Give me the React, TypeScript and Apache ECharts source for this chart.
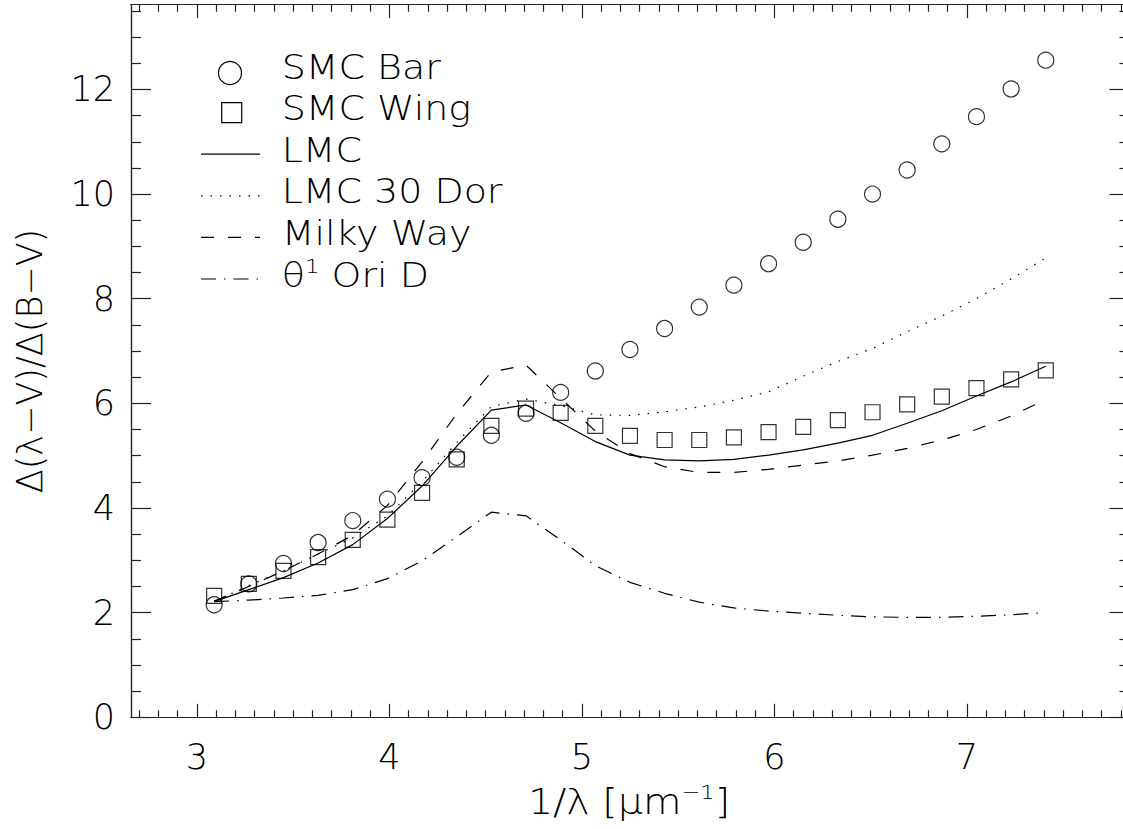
import { useEffect, useRef } from "react";
import * as echarts from "echarts";

// 1/lambda [micron^-1]
const X = [3.09, 3.27, 3.45, 3.63, 3.81, 3.99, 4.17, 4.35, 4.53, 4.71, 4.89, 5.07, 5.25, 5.43, 5.61, 5.79, 5.97, 6.15, 6.33, 6.51, 6.69, 6.87, 7.05, 7.23, 7.41];

const SMC_BAR = [2.15, 2.55, 2.94, 3.34, 3.76, 4.17, 4.58, 4.97, 5.39, 5.81, 6.21, 6.62, 7.03, 7.43, 7.84, 8.26, 8.67, 9.08, 9.52, 10.0, 10.46, 10.96, 11.48, 12.01, 12.56];
const SMC_WING = [2.32, 2.55, 2.8, 3.06, 3.39, 3.78, 4.29, 4.93, 5.57, 5.9, 5.82, 5.57, 5.38, 5.3, 5.3, 5.35, 5.45, 5.55, 5.68, 5.83, 5.98, 6.13, 6.29, 6.46, 6.63];
const LMC = [2.21, 2.44, 2.67, 2.95, 3.3, 3.8, 4.42, 5.18, 5.87, 5.97, 5.63, 5.27, 5.01, 4.92, 4.9, 4.93, 5.01, 5.11, 5.24, 5.39, 5.62, 5.86, 6.14, 6.41, 6.71];
const LMC_30DOR = [2.21, 2.52, 2.8, 3.12, 3.43, 3.85, 4.5, 5.25, 5.94, 6.08, 5.96, 5.78, 5.77, 5.84, 5.93, 6.06, 6.22, 6.52, 6.8, 7.05, 7.37, 7.67, 8.0, 8.38, 8.78];
const MILKY_WAY = [2.22, 2.5, 2.8, 3.12, 3.48, 4.05, 4.88, 5.8, 6.6, 6.73, 6.1, 5.47, 5.04, 4.79, 4.68, 4.68, 4.74, 4.82, 4.9, 5.01, 5.14, 5.3, 5.5, 5.76, 6.07];
const THETA1_ORI_D = [2.21, 2.24, 2.28, 2.33, 2.44, 2.65, 2.99, 3.45, 3.92, 3.85, 3.39, 2.9, 2.58, 2.37, 2.2, 2.09, 2.03, 1.99, 1.95, 1.92, 1.91, 1.91, 1.93, 1.96, 2.0];

const X_MAJOR = [3, 4, 5, 6, 7];
const Y_MAJOR = [0, 2, 4, 6, 8, 10, 12];

const XMIN = 2.658;
const XMAX = 7.845;
const YMIN = 0;
const YMAX = 13.62;

const X_TITLE = "1/λ [μm{sup|−1}]";
const Y_TITLE = "Δ(λ−V)/Δ(B−V)";

const FONT = '"DejaVu Sans", "Liberation Sans", sans-serif';
const FW = 200;
const INK = "#000";
const AXIS_INK = "#222";

const X_MINOR: number[] = [];
for (let i = 27; i <= 78; i++) if (i % 10 !== 0) X_MINOR.push(i / 10);
const Y_MINOR: number[] = [];
for (let i = 1; i <= 27; i++) if (i % 4 !== 0) Y_MINOR.push(i / 2);

const pairs = (ys: number[]) => X.map((x, i) => [x, ys[i]]);

const DOT = [1.5, 8];
const DASH = [13, 14];
const DASHDOT = [15, 8, 1.5, 8];

function xAxisDef(position: string, ticks: number[], len: number, withLabels: boolean, extra: any = {}) {
  return {
    type: "value",
    position,
    min: XMIN,
    max: XMAX,
    axisLine: { show: true, onZero: false, lineStyle: { color: AXIS_INK, width: 1.2 } },
    axisTick: { show: true, inside: true, length: len, customValues: ticks, lineStyle: { color: AXIS_INK, width: 1.2 } },
    axisLabel: withLabels
      ? { show: true, customValues: ticks, margin: 22, color: INK, fontSize: 35, fontFamily: FONT, fontWeight: FW }
      : { show: false },
    splitLine: { show: false },
    minorTick: { show: false },
    ...extra,
  };
}

function yAxisDef(position: string, ticks: number[], len: number, withLabels: boolean, extra: any = {}) {
  return {
    type: "value",
    position,
    min: YMIN,
    max: YMAX,
    axisLine: { show: true, onZero: false, lineStyle: { color: AXIS_INK, width: 1.2 } },
    axisTick: { show: true, inside: true, length: len, customValues: ticks, lineStyle: { color: AXIS_INK, width: 1.2 } },
    axisLabel: withLabels
      ? { show: true, customValues: ticks, margin: 16, color: INK, fontSize: 35, fontFamily: FONT, fontWeight: FW }
      : { show: false },
    splitLine: { show: false },
    minorTick: { show: false },
    ...extra,
  };
}

const LEGEND_NAMES = ["SMC Bar", "SMC Wing", "LMC", "LMC 30 Dor", "Milky Way", "θ{sup|1} Ori D"];

export default function App() {
  const ref = useRef<HTMLDivElement>(null);

  useEffect(() => {
    if (!ref.current) return;
    const chart = echarts.init(ref.current, null, { renderer: "svg" });

    const lineSeries = (name: string, ys: number[], type: any) => ({
      name,
      type: "line",
      data: pairs(ys),
      xAxisIndex: 0,
      yAxisIndex: 0,
      symbol: "none",
      showSymbol: false,
      smooth: false,
      lineStyle: { color: INK, width: 1.2, type },
      z: 3,
    });

    const supRich = {
      sup: { fontSize: 20, fontFamily: FONT, fontWeight: FW, lineHeight: 20, verticalAlign: "top" },
    };

    const rowY = (i: number) => 67 + 41.6 * i;
    const legendText = (text: string, i: number) => ({
      type: "text",
      x: 281.7,
      y: rowY(i),
      scaleX: 1.15,
      style: {
        text,
        x: 0,
        y: 0,
        fill: INK,
        fontSize: 33,
        fontFamily: FONT,
        fontWeight: FW,
        lineHeight: 38,
        verticalAlign: "middle",
        align: "left",
        rich: supRich,
      },
      z: 100,
    });
    const stroke = { stroke: INK, lineWidth: 1.2, fill: "none" };

    const graphic: any[] = [
      { type: "circle", shape: { cx: 230, cy: rowY(0) + 6, r: 11.5 }, style: { ...stroke }, z: 100 },
      { type: "rect", shape: { x: 221.7, y: rowY(1) + 4 - 10, width: 20, height: 20 }, style: { ...stroke }, z: 100 },
      { type: "line", shape: { x1: 201, y1: rowY(2) + 4, x2: 260, y2: rowY(2) + 4 }, style: { stroke: INK, lineWidth: 1.2 }, z: 100 },
      { type: "line", shape: { x1: 201, y1: rowY(3) + 4, x2: 260, y2: rowY(3) + 4 }, style: { stroke: INK, lineWidth: 1.2, lineDash: DOT }, z: 100 },
      { type: "line", shape: { x1: 201, y1: rowY(4) + 4, x2: 260, y2: rowY(4) + 4 }, style: { stroke: INK, lineWidth: 1.2, lineDash: DASH }, z: 100 },
      { type: "line", shape: { x1: 201, y1: rowY(5) + 4, x2: 260, y2: rowY(5) + 4 }, style: { stroke: INK, lineWidth: 1.2, lineDash: DASHDOT }, z: 100 },
      ...LEGEND_NAMES.map((n, i) => legendText(n, i)),
      {
        type: "text",
        x: 629,
        y: 802,
        scaleX: 1.13,
        style: {
          text: X_TITLE,
          x: 0,
          y: 0,
          fill: INK,
          fontSize: 35,
          fontFamily: FONT,
          fontWeight: FW,
          lineHeight: 40,
          verticalAlign: "middle",
          align: "center",
          rich: supRich,
        },
        z: 100,
      },
    ];

    chart.setOption({
      animation: false,
      backgroundColor: "#fff",
      grid: { left: 131, top: 4.7, right: -6.5, bottom: 111.7, containLabel: false, outerBoundsMode: "none" },
      xAxis: [
        xAxisDef("bottom", X_MAJOR, 13.5, true),
        xAxisDef("bottom", X_MINOR, 7, false),
        xAxisDef("top", X_MAJOR, 13.5, false),
        xAxisDef("top", X_MINOR, 7, false),
      ],
      yAxis: [
        yAxisDef("left", Y_MAJOR, 20, true, {
          name: Y_TITLE,
          nameLocation: "middle",
          nameGap: 84,
          nameTextStyle: { color: INK, fontSize: 35, fontFamily: FONT, fontWeight: FW },
        }),
        yAxisDef("left", Y_MINOR, 10, false),
        yAxisDef("right", Y_MAJOR, 20, false),
        yAxisDef("right", Y_MINOR, 10, false),
      ],
      series: [
        lineSeries("LMC", LMC, "solid"),
        lineSeries("LMC 30 Dor", LMC_30DOR, DOT),
        lineSeries("Milky Way", MILKY_WAY, DASH),
        lineSeries("θ1 Ori D", THETA1_ORI_D, DASHDOT),
        {
          name: "SMC Bar",
          type: "scatter",
          data: pairs(SMC_BAR),
          xAxisIndex: 0,
          yAxisIndex: 0,
          symbol: "circle",
          symbolSize: 16,
          itemStyle: { color: "rgba(0,0,0,0)", borderColor: INK, borderWidth: 1.2 },
          z: 5,
        },
        {
          name: "SMC Wing",
          type: "scatter",
          data: pairs(SMC_WING),
          xAxisIndex: 0,
          yAxisIndex: 0,
          symbol: "rect",
          symbolSize: 15,
          itemStyle: { color: "rgba(0,0,0,0)", borderColor: INK, borderWidth: 1.2 },
          z: 5,
        },
      ],
      graphic,
    });

    return () => chart.dispose();
  }, []);

  return <div ref={ref} style={{ position: "absolute", left: 0, top: 0, width: 1123, height: 829 }} />;
}
